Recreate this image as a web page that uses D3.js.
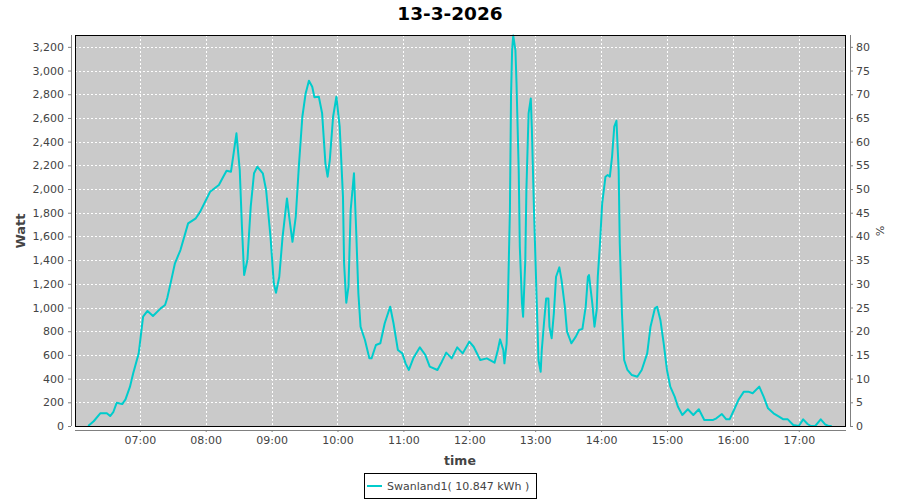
<!DOCTYPE html>
<html>
<head>
<meta charset="utf-8">
<script src="https://cdn.jsdelivr.net/npm/d3@7/dist/d3.min.js"></script>
<style>
  html, body { margin: 0; padding: 0; background: #fff; }
  svg { display: block; }
  text { font-family: "DejaVu Sans", sans-serif; }
</style>
</head>
<body>
<svg id="chart" width="900" height="500"></svg>
<script>
const title = "13-3-2026";
const seriesName = "Swanland1( 10.847 kWh )";
const times = ["06:13","06:18","06:24","06:30","06:33","06:36","06:39","06:44","06:47","06:51","06:54","06:59",
"07:03","07:07","07:12","07:19","07:23","07:25","07:28","07:32","07:37","07:44","07:51","07:55",
"08:04","08:12","08:16","08:19","08:23","08:25","08:28","08:31","08:33","08:35","08:38","08:41","08:44","08:47","08:52","08:55","08:59",
"09:02","09:04","09:07","09:10","09:14","09:16","09:19","09:22","09:25","09:28","09:31","09:34","09:37","09:39","09:43","09:46","09:49","09:51","09:53","09:56","09:59",
"10:02","10:05","10:06","10:08","10:10","10:12","10:15","10:17","10:19","10:21","10:25","10:29","10:31","10:35","10:39","10:43","10:48","10:51","10:55","10:59",
"11:02","11:05","11:09","11:15","11:20","11:24","11:31","11:35","11:39","11:44","11:49","11:54",
"12:00","12:04","12:10","12:16","12:23","12:26","12:28","12:31","12:32","12:34","12:35","12:37","12:38","12:39","12:40","12:42","12:43","12:45","12:46","12:48","12:49","12:51","12:52","12:54","12:56","12:57","12:59",
"13:01","13:03","13:05","13:06","13:08","13:10","13:12","13:13","13:15","13:17","13:19","13:22","13:24","13:27","13:29","13:33","13:37","13:40","13:43","13:46","13:48","13:49","13:52","13:54","13:56","13:57","13:59",
"14:01","14:04","14:06","14:08","14:10","14:12","14:14","14:16","14:17","14:19","14:21","14:24","14:28","14:33","14:37","14:42","14:45","14:49","14:51","14:54","14:57",
"15:00","15:03","15:07","15:10","15:14","15:19","15:24","15:29","15:34","15:38","15:42","15:45","15:50","15:54","15:57",
"16:01","16:05","16:10","16:14","16:18","16:24","16:28","16:32","16:37","16:42","16:46","16:50","16:55",
"17:00","17:04","17:08","17:11","17:15","17:20","17:24","17:27","17:30"];
const watts = [0,40,107,107,84,120,197,185,225,330,445,613,
923,971,928,993,1021,1080,1204,1373,1485,1710,1753,1809,
1977,2034,2104,2155,2146,2273,2470,2160,1682,1274,1401,1851,2133,2188,2133,1992,1597,
1204,1125,1260,1597,1921,1766,1555,1766,2217,2610,2807,2914,2863,2774,2779,2639,2217,2104,2245,2610,2779,
2526,1935,1375,1040,1176,1823,2133,1654,1120,838,726,571,571,684,698,867,1007,867,641,613,
529,473,571,664,599,501,473,543,619,571,664,613,
712,669,557,571,534,641,731,641,529,698,979,1823,2779,3173,3295,3173,2892,2160,1513,1035,923,1401,1992,2639,2765,2498,1795,
1176,557,458,641,867,1077,1077,838,740,951,1260,1339,1232,1007,796,698,754,810,820,1007,1260,1274,1035,838,979,1260,1542,
1879,2104,2118,2104,2273,2526,2576,2160,1542,951,557,473,430,416,473,613,838,993,1007,895,698,
473,332,248,163,93,141,93,141,51,51,51,65,101,56,56,
135,219,290,290,276,332,248,149,107,79,56,56,8,
0,56,17,0,0,56,13,0,0];
const xDomain = ["06:01", "17:43"];
const xTickLabels = ["07:00","08:00","09:00","10:00","11:00","12:00","13:00","14:00","15:00","16:00","17:00"];
const yLeftMax = 3300;
const yLeftTicks = [0,200,400,600,800,1000,1200,1400,1600,1800,2000,2200,2400,2600,2800,3000,3200];
const yRightMax = 82.5;
const yRightTicks = [0,5,10,15,20,25,30,35,40,45,50,55,60,65,70,75,80];

const parse = d3.timeParse("%H:%M");
const data = times.map((t, i) => ({ t: parse(t), v: watts[i] }));

const L = 75, R = 846, T = 35, B = 426;
const svg = d3.select("#chart");

const x = d3.scaleTime().domain(xDomain.map(parse)).range([L, R]);
const y = d3.scaleLinear().domain([0, yLeftMax]).range([B, T]);
const y2 = d3.scaleLinear().domain([0, yRightMax]).range([B, T]);

// plot background
svg.append("rect").attr("x", L).attr("y", T).attr("width", R - L).attr("height", B - T)
  .attr("fill", "#cacaca");

// gridlines
const tickDates = xTickLabels.map(parse);
svg.append("g").selectAll("line").data(tickDates).join("line")
  .attr("x1", d => Math.round(x(d)) + 0.5).attr("x2", d => Math.round(x(d)) + 0.5)
  .attr("y1", T).attr("y2", B)
  .attr("stroke", "#fff").attr("stroke-width", 1).attr("stroke-dasharray", "2,2");
svg.append("g").selectAll("line").data(yLeftTicks.slice(1)).join("line")
  .attr("x1", L).attr("x2", R)
  .attr("y1", d => Math.round(y(d)) + 0.5).attr("y2", d => Math.round(y(d)) + 0.5)
  .attr("stroke", "#fff").attr("stroke-width", 1).attr("stroke-dasharray", "2,2");

// clip
svg.append("clipPath").attr("id", "clip").append("rect")
  .attr("x", L).attr("y", T - 1).attr("width", R - L).attr("height", B - T + 1);

// line
const line = d3.line().x(d => x(d.t)).y(d => y(d.v));
svg.append("path").datum(data).attr("d", line)
  .attr("clip-path", "url(#clip)")
  .attr("fill", "none").attr("stroke", "#00cccc").attr("stroke-width", 2)
  .attr("stroke-linejoin", "round");

// plot border
svg.append("rect").attr("x", L + 0.5).attr("y", T + 0.5).attr("width", R - L - 1).attr("height", B - T)
  .attr("fill", "none").attr("stroke", "#000").attr("stroke-width", 1);

// axes
const axisColor = "#808080";
const labelColor = "#444";
function styleAxis(g) {
  g.select(".domain").attr("stroke", axisColor);
  g.selectAll(".tick line").attr("stroke", axisColor);
  g.selectAll(".tick text").attr("fill", labelColor)
    .style("font-family", "'DejaVu Sans', sans-serif").style("font-size", "11px");
}

const xAxis = d3.axisBottom(x).tickValues(tickDates).tickFormat(d3.timeFormat("%H:%M"))
  .tickSizeInner(2).tickSizeOuter(0).tickPadding(4);
svg.append("g").attr("transform", `translate(0,${B + 4})`).call(xAxis).call(styleAxis)
  .call(g => g.select(".domain").attr("d", `M${L},0.5H${R}`));

const yAxis = d3.axisLeft(y).tickValues(yLeftTicks).tickFormat(d3.format(","))
  .tickSizeInner(3).tickSizeOuter(0).tickPadding(4);
svg.append("g").attr("transform", `translate(${L - 4},0)`).call(yAxis).call(styleAxis)
  .call(g => g.select(".domain").attr("d", `M0.5,${T}V${B}`));

const yAxis2 = d3.axisRight(y2).tickValues(yRightTicks).tickFormat(d3.format("d"))
  .tickSizeInner(3).tickSizeOuter(0).tickPadding(3);
svg.append("g").attr("transform", `translate(${R + 4},0)`).call(yAxis2).call(styleAxis)
  .call(g => g.select(".domain").attr("d", `M0.5,${T}V${B}`));

// title
svg.append("text").attr("x", 450).attr("y", 20).attr("text-anchor", "middle")
  .style("font-weight", "bold").style("font-size", "18.5px").attr("fill", "#000").text(title);

// axis labels
svg.append("text").attr("x", 460).attr("y", 465).attr("text-anchor", "middle")
  .style("font-weight", "bold").style("font-size", "12.5px").attr("fill", labelColor).text("time");
svg.append("text").attr("transform", "translate(25,231) rotate(-90)").attr("text-anchor", "middle")
  .style("font-weight", "bold").style("font-size", "13px").attr("fill", labelColor).text("Watt");
svg.append("text").attr("transform", "translate(876,231) rotate(90)").attr("text-anchor", "middle")
  .style("font-size", "11px").attr("fill", labelColor).text("%");

// legend
const lg = svg.append("g");
lg.append("rect").attr("x", 364.5).attr("y", 473.5).attr("width", 172).attr("height", 25)
  .attr("fill", "#fff").attr("stroke", "#000");
lg.append("line").attr("x1", 367).attr("x2", 382).attr("y1", 486).attr("y2", 486)
  .attr("stroke", "#00cccc").attr("stroke-width", 2);
lg.append("text").attr("x", 387).attr("y", 490).style("font-size", "11px").attr("fill", labelColor)
  .text(seriesName);
</script>
</body>
</html>
